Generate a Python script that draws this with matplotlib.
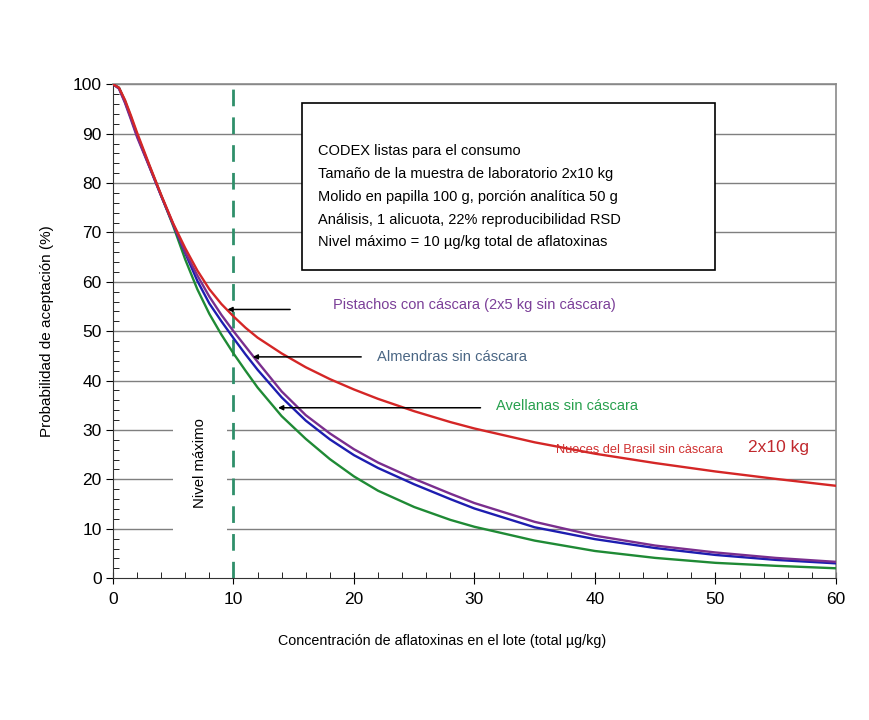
import matplotlib.pyplot as plt
from matplotlib.patches import Rectangle

plt.rcParams['font.family'] = ['Liberation Sans', 'DejaVu Sans']

# concentración (total ug/kg) y probabilidad de aceptación (%)
conc = [0, 0.5, 1, 1.5, 2, 3, 4, 5, 6, 7, 8, 9, 10, 11, 12, 14, 16, 18, 20, 22, 25, 28, 30, 35, 40, 45, 50, 55, 60]
nueces = [100, 99.3, 96.8, 93.6, 90.2, 83.8, 77.6, 71.8, 66.8, 62.3, 58.5, 55.5, 53.0, 50.7, 48.7, 45.5,
          42.7, 40.3, 38.2, 36.3, 33.8, 31.6, 30.3, 27.5, 25.2, 23.3, 21.6, 20.1, 18.7]
pistachos = [100, 99.1, 96.2, 92.8, 89.3, 83.4, 77.4, 71.6, 66.0, 61.3, 57.0, 53.3, 50.0, 46.9, 43.8, 37.8,
             33.0, 29.3, 26.1, 23.4, 20.1, 17.1, 15.2, 11.4, 8.6, 6.6, 5.2, 4.1, 3.3]
almendras = [100, 99.2, 96.4, 93.1, 89.6, 83.5, 77.4, 71.6, 65.8, 60.2, 55.6, 52.0, 48.6, 45.3, 42.2, 36.6,
             31.9, 28.1, 24.9, 22.3, 19.0, 16.0, 14.1, 10.3, 7.9, 6.1, 4.7, 3.7, 3.0]
avellanas = [100, 99.3, 96.6, 93.3, 89.8, 83.6, 77.5, 71.3, 64.5, 58.5, 53.5, 49.3, 45.5, 42.0, 38.6, 32.8,
             28.2, 24.1, 20.6, 17.7, 14.4, 11.8, 10.4, 7.6, 5.5, 4.1, 3.1, 2.5, 2.0]

nivel_maximo = 10
info = ['CODEX listas para el consumo',
        'Tamaño de la muestra de laboratorio 2x10 kg',
        'Molido en papilla 100 g, porción analítica 50 g',
        'Análisis, 1 alicuota, 22% reproducibilidad RSD',
        'Nivel máximo = 10 \u00b5g/kg total de aflatoxinas']

fig = plt.figure(figsize=(8.69, 7.2), dpi=100)
ax = fig.add_axes([0.130, 0.197, 0.832, 0.686])

# horizontal grid, interrupted behind the "Nivel maximo" label
for yv in range(10, 101, 10):
    ax.axhline(yv, color='#7f7f7f', lw=1.0, zorder=1)
ax.add_patch(Rectangle((5, 4), 4.5, 31, facecolor='white', edgecolor='none', zorder=1.5))

ax.plot(conc, avellanas, color='#1f8a35', lw=1.7, zorder=3)
ax.plot(conc, almendras, color='#1d1db0', lw=1.7, zorder=3)
ax.plot(conc, pistachos, color='#7a2e8e', lw=1.7, zorder=3)
ax.plot(conc, nueces, color='#d42626', lw=1.7, zorder=3)

ax.plot([nivel_maximo, nivel_maximo], [0, 100], color='#2f8f6a', lw=2.0,
        dashes=(6, 4), zorder=2)

ax.set_xlim(0, 60)
ax.set_ylim(0, 100)
ax.set_xticks(range(0, 61, 10))
ax.set_xticks(range(0, 61, 2), minor=True)
ax.set_yticks(range(0, 101, 10))
ax.set_yticks(range(0, 101, 2), minor=True)
ax.tick_params(axis='x', which='major', direction='inout', length=8, labelsize=12.5, pad=6)
ax.tick_params(axis='x', which='minor', direction='in', length=4)
ax.tick_params(axis='y', which='major', direction='out', length=5, labelsize=12.5, pad=3)
ax.tick_params(axis='y', which='minor', direction='in', length=4)
for s in ['top', 'right']:
    ax.spines[s].set_color('#8a8a8a')
    ax.spines[s].set_linewidth(1.2)
for s in ['left', 'bottom']:
    ax.spines[s].set_color('#333333')

ax.set_xlabel('Concentración de aflatoxinas en el lote (total \u00b5g/kg)', fontsize=10.3)
ax.xaxis.set_label_coords(0.455, -0.113)
ax.set_ylabel('Probabilidad de aceptación (%)', fontsize=11)
ax.yaxis.set_label_coords(-0.082, 0.5)

# info box
ax.add_patch(Rectangle((15.7, 62.3), 34.3, 33.9, facecolor='white', edgecolor='black',
                       lw=1.2, zorder=4))
for i, line in enumerate(info):
    ax.text(17.0, 86.4 - i * 4.6, line, fontsize=10.5, va='center', zorder=5)

arrow = dict(arrowstyle='-|>', color='black', lw=1.1, mutation_scale=7, shrinkA=0, shrinkB=0)
ax.annotate('', xy=(9.5, 54.4), xytext=(14.7, 54.4), arrowprops=arrow, zorder=5)
ax.annotate('', xy=(11.6, 44.8), xytext=(20.6, 44.8), arrowprops=arrow, zorder=5)
ax.annotate('', xy=(13.7, 34.5), xytext=(30.5, 34.5), arrowprops=arrow, zorder=5)

ax.text(18.3, 55.4, 'Pistachos con cáscara (2x5 kg sin cáscara)', color='#7b3f98',
        fontsize=10.5, va='center', zorder=5)
ax.text(21.9, 44.7, 'Almendras sin cáscara', color='#4a6684', fontsize=10.6, va='center', zorder=5)
ax.text(31.8, 34.8, 'Avellanas sin cáscara', color='#28a04e', fontsize=10.5, va='center', zorder=5)
ax.text(36.8, 25.9, 'Nueces del Brasil sin càscara', color='#d03030', fontsize=9.2,
        va='center', zorder=5)
ax.text(52.7, 26.4, '2x10 kg', color='#c0282d', fontsize=12.5, va='center', zorder=5)
ax.text(7.2, 23.3, 'Nivel máximo', rotation=90, fontsize=10.7, ha='center', va='center', zorder=5)

fig.savefig('out.png', dpi=100)
